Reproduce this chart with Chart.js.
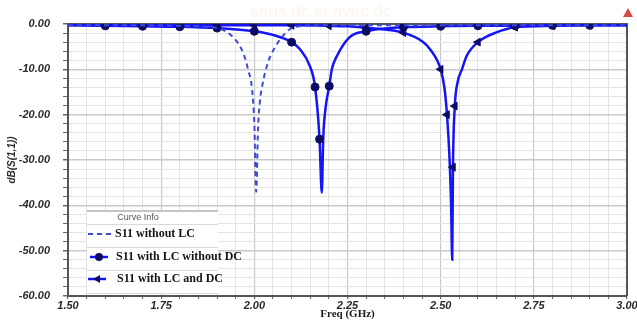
<!DOCTYPE html>
<html>
<head>
<meta charset="utf-8">
<script src="https://cdn.jsdelivr.net/npm/chart.js@4"></script>
<style>
  html, body { margin: 0; padding: 0; background: #fff; }
</style>
</head>
<body>
<canvas id="chart" width="637" height="320"></canvas>
<script>
// S11 without LC (dashed)
const freqNoLC = [1.50, 1.60, 1.70, 1.80, 1.87, 1.91, 1.935, 1.956, 1.972, 1.983, 1.994, 2.000, 2.005, 2.010, 2.015, 2.021, 2.037, 2.061, 2.080, 2.096, 2.12, 2.20, 2.40, 2.60, 2.80, 3.00];
const s11NoLC = [-0.3, -0.3, -0.3, -0.4, -0.6, -1.1, -2.3, -4.2, -6.8, -10.0, -14.5, -22.0, -37.0, -23.0, -17.0, -13.7, -8.4, -4.4, -2.3, -1.1, -0.5, -0.3, -0.3, -0.3, -0.3, -0.3];

// S11 with LC without DC (circles)
const freqLcNoDc = [1.50, 1.60, 1.70, 1.80, 1.90, 2.00, 2.05, 2.10, 2.122, 2.149, 2.163, 2.175, 2.181, 2.185, 2.192, 2.201, 2.208, 2.222, 2.256, 2.30, 2.35, 2.40, 2.50, 2.60, 2.70, 2.80, 2.90, 3.00];
const s11LcNoDc = [-0.3, -0.4, -0.5, -0.6, -0.9, -1.6, -2.4, -4.0, -5.5, -9.3, -13.9, -25.4, -37.2, -25.0, -18.0, -13.7, -10.0, -7.0, -2.9, -1.6, -1.0, -0.7, -0.5, -0.4, -0.4, -0.3, -0.3, -0.3];
const markLcNoDc = [1.60, 1.70, 1.80, 1.90, 2.00, 2.10, 2.163, 2.175, 2.201, 2.30, 2.40, 2.50, 2.60, 2.70, 2.80, 2.90];

// S11 with LC and DC (triangles)
const freqLcDc = [1.50, 1.60, 1.70, 1.80, 1.90, 2.00, 2.10, 2.20, 2.25, 2.30, 2.35, 2.40, 2.45, 2.471, 2.50, 2.51, 2.517, 2.524, 2.528, 2.531, 2.533, 2.538, 2.545, 2.557, 2.570, 2.60, 2.651, 2.70, 2.80, 2.90, 3.00];
const s11LcDc = [-0.2, -0.3, -0.3, -0.3, -0.3, -0.3, -0.3, -0.4, -0.5, -0.8, -1.2, -1.9, -3.8, -5.5, -10.0, -14.0, -20.0, -30.0, -40.0, -52.0, -31.6, -18.1, -13.0, -10.0, -7.0, -4.0, -1.8, -0.7, -0.4, -0.3, -0.3];
const markLcDc = [1.60, 1.70, 1.80, 1.90, 2.00, 2.10, 2.20, 2.30, 2.40, 2.50, 2.517, 2.533, 2.538, 2.60, 2.70, 2.80, 2.90];

const seriesNames = ["S11 without LC", "S11 with LC without DC", "S11 with LC and DC"];
const xTickLabels = ["1.50", "1.75", "2.00", "2.25", "2.50", "2.75", "3.00"];
const yTickLabels = ["0.00", "-10.00", "-20.00", "-30.00", "-40.00", "-50.00", "-60.00"];

const lineBlue = "#1414f5";
const dashBlue = "#3c4ad6";
const markerNavy = "#0c0c66";

function toPoints(xs, ys) {
  return xs.map((x, i) => ({ x: x, y: ys[i] }));
}

function markerRadius(marks, r) {
  return (ctx) => (ctx.raw && marks.includes(ctx.raw.x) ? r : 0);
}

const isMajorX = (v) => Math.abs(v * 4 - Math.round(v * 4)) < 1e-6;
const isMajorY = (v) => Math.abs(v % 10) < 1e-6;

const decor = {
  id: "decor",
  beforeDatasetsDraw(chart) {
    const { ctx, chartArea: a } = chart;
    ctx.save();
    ctx.strokeStyle = "#555";
    ctx.lineWidth = 2;
    ctx.beginPath();
    ctx.moveTo(a.left, a.top);
    ctx.lineTo(a.right, a.top);
    ctx.lineTo(a.right, a.bottom);
    ctx.stroke();
    ctx.restore();
  },
  afterDatasetsDraw(chart) {
    const ctx = chart.ctx;
    ctx.save();

    // faint watermark title
    ctx.fillStyle = "#fdf4ea";
    ctx.font = '17px "Liberation Sans"';
    ctx.textAlign = "center";
    ctx.textBaseline = "middle";
    ctx.fillText("sans dc et avec dc", 321, 12);

    // little warning icon, top right
    ctx.fillStyle = "#d84848";
    ctx.beginPath();
    ctx.moveTo(623, 17);
    ctx.lineTo(633, 17);
    ctx.lineTo(628, 8);
    ctx.closePath();
    ctx.fill();

    // legend box
    const lx = 87, lw = 131;
    ctx.fillStyle = "#fff";
    ctx.fillRect(lx, 211, lw, 83);
    ctx.strokeStyle = "#c4c4c4";
    ctx.lineWidth = 2;
    ctx.beginPath();
    ctx.moveTo(lx, 211);
    ctx.lineTo(lx + lw, 211);
    ctx.stroke();
    ctx.strokeStyle = "#dadada";
    ctx.lineWidth = 1;
    [224.5, 247.5, 270.5, 293.5].forEach((y) => {
      ctx.beginPath();
      ctx.moveTo(lx, y);
      ctx.lineTo(lx + lw, y);
      ctx.stroke();
    });

    ctx.fillStyle = "#555";
    ctx.font = '9px "Liberation Sans"';
    ctx.textAlign = "center";
    ctx.fillText("Curve Info", 138, 218);

    ctx.textAlign = "left";
    ctx.font = 'bold 12px "Liberation Serif"';

    // row 1: dashed
    ctx.strokeStyle = dashBlue;
    ctx.lineWidth = 2;
    ctx.setLineDash([5, 4]);
    ctx.beginPath();
    ctx.moveTo(88, 234);
    ctx.lineTo(114, 234);
    ctx.stroke();
    ctx.setLineDash([]);
    ctx.fillStyle = "#141414";
    ctx.fillText(seriesNames[0], 115, 234);

    // row 2: circle marker
    ctx.strokeStyle = lineBlue;
    ctx.lineWidth = 2.5;
    ctx.beginPath();
    ctx.moveTo(90, 257);
    ctx.lineTo(108, 257);
    ctx.stroke();
    ctx.fillStyle = markerNavy;
    ctx.beginPath();
    ctx.arc(99, 257, 4, 0, Math.PI * 2);
    ctx.fill();
    ctx.fillStyle = "#141414";
    ctx.fillText(seriesNames[1], 116, 257);

    // row 3: triangle marker
    ctx.strokeStyle = lineBlue;
    ctx.beginPath();
    ctx.moveTo(88, 279);
    ctx.lineTo(106, 279);
    ctx.stroke();
    ctx.fillStyle = markerNavy;
    ctx.beginPath();
    ctx.moveTo(93, 279);
    ctx.lineTo(100, 275);
    ctx.lineTo(100, 283);
    ctx.closePath();
    ctx.fill();
    ctx.fillStyle = "#141414";
    ctx.fillText(seriesNames[2], 117, 279);

    ctx.restore();
  },
};

new Chart(document.getElementById("chart"), {
  type: "line",
  data: {
    datasets: [
      {
        label: seriesNames[0],
        data: toPoints(freqNoLC, s11NoLC),
        borderColor: dashBlue,
        borderWidth: 2,
        borderDash: [5, 4],
        pointRadius: 0,
        cubicInterpolationMode: "monotone",
      },
      {
        label: seriesNames[1],
        data: toPoints(freqLcNoDc, s11LcNoDc),
        borderColor: lineBlue,
        borderWidth: 2.5,
        pointStyle: "circle",
        pointRadius: markerRadius(markLcNoDc, 4),
        pointBackgroundColor: markerNavy,
        pointBorderColor: markerNavy,
        pointBorderWidth: 1,
        cubicInterpolationMode: "monotone",
      },
      {
        label: seriesNames[2],
        data: toPoints(freqLcDc, s11LcDc),
        borderColor: lineBlue,
        borderWidth: 2.5,
        pointStyle: "triangle",
        pointRotation: -90,
        pointRadius: markerRadius(markLcDc, 4.5),
        pointBackgroundColor: markerNavy,
        pointBorderColor: markerNavy,
        pointBorderWidth: 1,
        cubicInterpolationMode: "monotone",
      },
    ],
  },
  options: {
    responsive: false,
    animation: false,
    events: [],
    layout: { padding: { left: 0, right: 10, top: 24, bottom: 0 } },
    plugins: { legend: { display: false }, tooltip: { enabled: false } },
    scales: {
      x: {
        type: "linear",
        min: 1.5,
        max: 3.0,
        afterBuildTicks: (scale) => {
          const ticks = [];
          for (let i = 0; i <= 30; i++) ticks.push({ value: +(1.5 + i * 0.05).toFixed(2) });
          scale.ticks = ticks;
        },
        afterFit: (scale) => {
          scale.height = 24;
          scale.paddingLeft = 0;
          scale.paddingRight = 0;
        },
        ticks: {
          autoSkip: false,
          maxRotation: 0,
          padding: 0,
          color: "#2a2a2a",
          font: { family: "Liberation Sans", size: 11, weight: "bold", style: "italic" },
          callback: (v) => (isMajorX(v) ? xTickLabels[Math.round((v - 1.5) * 4)] : ""),
        },
        grid: {
          color: (c) => (isMajorX(c.tick.value) ? "#c9c9c9" : "#e4e4e4"),
          lineWidth: (c) => (isMajorX(c.tick.value) ? 1.2 : 1),
          tickColor: "#666",
          tickLength: 3,
        },
        border: { color: "#555", width: 2 },
        title: {
          display: true,
          text: "Freq (GHz)",
          color: "#1a1a1a",
          padding: 0,
          font: { family: "Liberation Serif", size: 11, weight: "bold", lineHeight: 1 },
        },
      },
      y: {
        type: "linear",
        min: -60,
        max: 0,
        afterBuildTicks: (scale) => {
          const ticks = [];
          for (let v = -60; v <= 0; v += 2) ticks.push({ value: v });
          scale.ticks = ticks;
        },
        afterFit: (scale) => {
          scale.width = 68;
          scale.paddingTop = 0;
          scale.paddingBottom = 0;
        },
        ticks: {
          autoSkip: false,
          padding: 13,
          color: "#2a2a2a",
          font: { family: "Liberation Sans", size: 11, weight: "bold", style: "italic" },
          callback: (v) => (isMajorY(v) ? yTickLabels[Math.round(-v / 10)] : ""),
        },
        grid: {
          color: (c) => (isMajorY(c.tick.value) ? "#c9c9c9" : "#e4e4e4"),
          lineWidth: (c) => (isMajorY(c.tick.value) ? 1.5 : 1),
          tickColor: "#666",
          tickLength: 5,
        },
        border: { color: "#555", width: 2 },
        title: {
          display: true,
          text: "dB(S(1,1))",
          color: "#2a2a2a",
          padding: { top: 6, bottom: 0 },
          font: { family: "Liberation Sans", size: 10, weight: "bold", style: "italic", lineHeight: 1.2 },
        },
      },
    },
  },
  plugins: [decor],
});
</script>
</body>
</html>
